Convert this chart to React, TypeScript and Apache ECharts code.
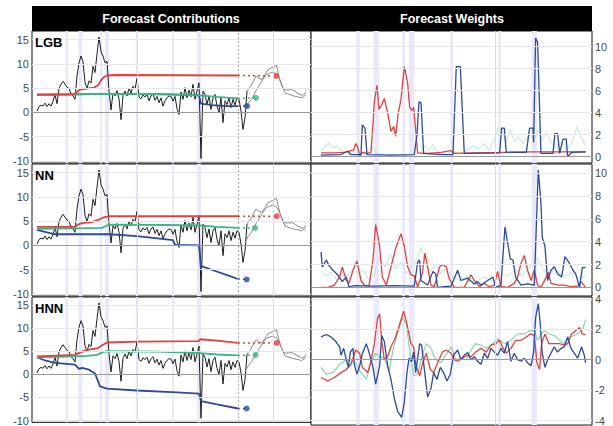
import { useEffect, useRef } from "react";
import * as echarts from "echarts";

type Pt = [number, number];

// ---------- shared time axis (period index) ----------
const panelNames = ["LGB", "NN", "HNN"];
const headerTitles = ["Forecast Contributions", "Forecast Weights"];
const bands: Pt[] = [[28.5, 31], [41.5, 45.5], [63, 65], [68, 72], [99, 101], [135, 137], [160, 164]];
const sampleEnd = 201;
const leftGridLinesX = [100, 236];
const rightGridLinesX = [133];

// ---------- tick labels ----------
const leftTicks = [-10, -5, 0, 5, 10, 15];
const rightTicks = [
  [0, 2, 4, 6, 8, 10],
  [0, 2, 4, 6, 8, 10],
  [-4, -2, 0, 2, 4],
];

// ---------- actual series (black), one value every 2 periods from 0 ----------
const blackStep = 2;
const blackActual = [
  0.3, 1.2, 1.5, 1.3, 1.9, 1.2, 1.8, 1.3, 2.3, 3.7, 1.8, 4.9, 5.8, 6.4, 5.8, 5.2, 4.9, 3.8, 3.4, 2.7,
  7.5, 10.2, 11.6, 10.5, 6.2, 4.9, 6.5, 6.0, 9.5, 8.2, 12.0, 15.5, 12.5, 11.6, 10.2, 10.5, 4.5, 0.5, 4.0, 3.4,
  4.5, 2.8, -1.5, 3.5, 4.4, 3.4, 5.0, 4.0, 5.4, 4.8, 7.0, 3.2, 2.8, 3.6, 3.2, 3.7, 2.4, 3.4, 3.8, 2.5,
  3.3, 2.0, 3.0, 1.3, 2.4, 3.0, 3.4, 3.3, 2.3, 3.3, 0.8, -0.4, 4.2, 2.7, 5.1, 3.0, 4.6, 3.2, 5.8, 2.7,
  4.4, 6.1, -9.5, 4.4, 3.7, 1.6, 3.4, 0.6, 3.0, 3.7, 1.3, 0.0, 3.0, -2.1, 2.4, 1.6, 3.0, 1.0, 2.7, 1.5,
  3.0, 2.7, 0.3, -3.5, -1.1, 4.4,
];
const grayUpper: Pt[] = [[210, 4.4], [214, 5.5], [219, 7.5], [222, 7.0], [225, 6.8], [228, 7.8], [231, 8.8], [235, 9.2], [239.5, 9.7], [241.5, 7.8], [244, 6.0], [246.5, 4.7], [250, 4.6], [255, 4.7], [259, 4.2], [263, 3.7], [266, 3.5], [268, 4.0], [269, 4.1]];
const grayLower: Pt[] = [[208, 0.5], [211, 1.8], [214.5, 2.7], [219, 4.5], [223, 5.8], [226, 6.8], [229.5, 7.8], [233, 8.1], [236.5, 8.3], [240, 7.8], [244.5, 5.8], [248, 4.0], [252, 3.7], [256.5, 3.4], [261, 3.2], [264.5, 3.0], [267, 3.3], [269, 3.7]];

// ---------- contributions ----------
const lgbRed: Pt[] = [[0, 3.7], [36, 3.7], [40, 4.2], [43, 4.7], [50, 4.9], [57, 5.1], [61, 5.6], [64, 6.6], [67, 7.3], [70, 7.6], [80, 7.7], [201, 7.6]];
const lgbGreen: Pt[] = [[0, 3.6], [38, 3.7], [70, 3.8], [133, 3.7], [163, 3.5], [180, 3.2], [201, 2.9]];
const lgbBlue: Pt[] = [[0, 3.6], [38, 3.7], [70, 3.8], [133, 3.7], [162, 3.5], [164, 1.8], [175, 1.5], [190, 1.3], [201, 1.3]];
const lgbDotRed: Pt = [239, 7.5];
const lgbDotGreen: Pt = [219, 3.0];
const lgbDotBlue: Pt = [210, 1.3];

const nnRed: Pt[] = [[0, 3.8], [38, 3.8], [41, 4.3], [45, 4.6], [55, 4.8], [62, 5.3], [67, 5.8], [72, 6.0], [201, 6.0]];
const nnGreen: Pt[] = [[0, 3.4], [40, 3.5], [65, 3.6], [70, 4.1], [75, 4.3], [130, 4.2], [163, 4.1], [180, 3.8], [201, 3.6]];
const nnBlue: Pt[] = [[0, 3.2], [8, 2.8], [18, 2.3], [73, 2.3], [100, 1.9], [136, 1.1], [138, 0.1], [162, 0.0], [164, -4.2], [176, -5.1], [193, -6.3], [201, -6.9]];
const nnDotRed: Pt = [239.7, 6.0];
const nnDotGreen: Pt = [218, 3.6];
const nnDotBlue: Pt = [209.7, -7.0];

const hnnRed: Pt[] = [[0, 3.9], [38, 4.2], [44, 4.8], [50, 5.3], [60, 5.6], [66, 6.4], [70, 6.9], [100, 7.1], [162, 7.2], [163, 7.6], [180, 7.3], [201, 6.8]];
const hnnGreen: Pt[] = [[0, 3.7], [38, 3.9], [50, 4.0], [60, 4.2], [66, 4.8], [70, 5.0], [120, 4.9], [163, 4.6], [180, 4.3], [201, 4.1]];
const hnnBlue: Pt[] = [[0, 3.7], [8, 3.0], [18, 2.5], [38, 2.1], [42, 1.2], [45, 1.4], [52, 1.0], [58, 0.2], [63, -2.6], [70, -3.1], [100, -3.5], [140, -3.9], [162, -4.2], [164, -5.8], [180, -6.5], [201, -7.4]];
const hnnDotRed: Pt = [239.7, 6.8];
const hnnDotGreen: Pt = [218.7, 4.2];
const hnnDotBlue: Pt = [209.7, -7.4];

// ---------- weights ----------
const lgbWRed: Pt[] = [[2, 0.35], [12, 0.35], [19.5, 0.4], [23, 0.5], [26.5, 0.6], [28, 1.2], [29.5, 0.9], [31, 0.05], [33, 0.4], [37, 0.3], [39.5, 0.4], [41, 3.0], [42, 5.0], [44, 6.5], [45.5, 4.3], [47.5, 4.7], [49.5, 5.3], [52, 4.0], [54.5, 2.3], [56.5, 2.75], [58, 1.85], [60, 4.0], [62, 5.2], [64.5, 8.2], [67, 6.7], [68.5, 4.5], [70, 4.2], [71.5, 4.5], [73, 2.45], [74.5, 0.35], [82, 0.3], [92, 0.4], [99.5, 0.55], [102, 0.3], [120, 0.35], [140, 0.4], [160, 0.45], [180, 0.45], [200.5, 0.45]];
const lgbWBlue: Pt[] = [[2, 0.15], [17, 0.2], [22, 0.5], [24.5, 0.2], [32, 0.2], [33, 2.9], [35, 2.6], [36.5, 0.2], [54.5, 0.15], [72, 0.2], [74, 2.0], [75.5, 5.0], [77, 4.9], [79, 0.3], [92, 0.2], [101, 0.2], [103.5, 8.2], [106.5, 8.2], [109.5, 0.3], [136, 0.35], [137.5, 2.6], [139.5, 2.6], [141, 0.4], [156, 0.4], [158.5, 2.6], [161, 2.6], [161.5, 1.3], [163, 10.8], [164.5, 10.4], [167, 0.3], [176, 0.3], [177.5, 2.1], [179.5, 2.1], [181, 0.3], [183.5, 1.6], [186, 1.6], [187, 0.0], [190, 0.4], [200.5, 0.45]];
const lgbWGreen: Pt[] = [[2, 0.5], [5, 0.9], [8, 1.3], [11, 0.8], [14, 1.0], [17, 0.6], [20, 0.4], [25, 0.2], [30, 0.3], [36, 0.2], [40, 1.0], [44, 0.3], [50, 0.2], [60, 0.2], [70, 0.2], [76, 0.3], [80, 1.0], [83, 0.6], [86, 1.1], [89, 0.5], [94, 0.3], [100, 0.4], [106, 0.3], [112, 0.6], [116, 1.0], [120, 0.7], [124, 1.2], [128, 0.6], [132, 1.5], [135, 2.7], [138, 2.2], [141, 1.4], [144, 2.5], [147, 1.3], [150, 1.8], [154, 1.2], [158, 2.0], [162, 1.6], [165, 2.4], [168, 1.5], [171, 2.2], [174, 1.4], [178, 0.8], [182, 1.3], [186, 0.6], [190, 1.2], [194, 2.7], [197, 1.8], [200.5, 1.0]];

const nnWBlue: Pt[] = [[2, 3.1], [3, 1.8], [6, 2.4], [8, 1.9], [11, 1.5], [14.5, 1.1], [18, 0.5], [21, 0.9], [23, 0.05], [27, 0.15], [42, 0.1], [57, 0.15], [72, 0.1], [74.5, 2.2], [76, 2.4], [77, 0.6], [82, 0.2], [86, 1.4], [88, 1.2], [89.5, 0], [94.5, 0.05], [99.5, 0.1], [102, 0.8], [104.5, 1.5], [107, 0.6], [112, 0.8], [117, 0.3], [119.5, 0.5], [122, 0.2], [127, 0.6], [131, 0.9], [133, 0], [137, 0.2], [140, 5.3], [142, 3.9], [144, 2.5], [146, 2.4], [148, 0.9], [152, 0.2], [157, 0.3], [162, 0.2], [165, 10.3], [167, 7.4], [168, 4.4], [170, 3.6], [172, 0.6], [174.5, 1.5], [177, 1.8], [179.5, 1.2], [182.5, 0.9], [185, 2.7], [188, 2.2], [191, 1.5], [193, 1.2], [196, 0], [198, 1.7], [200.5, 1.75]];
const nnWRed: Pt[] = [[2, 0], [7, 0], [12, 0.2], [16, 0.9], [18, 1.8], [21, 0.6], [23, 0.35], [26, 1.5], [29, 2.3], [32, 0.6], [34.5, 0.2], [38, 0.1], [41, 2.4], [43, 5.5], [46, 3.6], [48, 0.9], [51, 0.2], [54.5, 1.8], [58, 3.4], [62, 4.7], [64.5, 3.6], [67, 1.8], [69.5, 1.1], [72, 1.0], [74.5, 0.05], [78, 1.2], [80, 3.0], [82, 1.8], [84.5, 0.2], [87, 0.05], [91, 1.8], [93, 2.0], [96, 1.8], [98, 0.8], [102, 0], [109.5, 0], [114.5, 1.1], [117, 0.6], [121, 0.05], [124.5, 0.35], [128, 0.05], [132, 0.2], [134.5, 1.4], [137, 0.05], [142, 0], [147, 0.35], [149.5, 0.9], [152, 2.1], [154.5, 2.8], [157, 1.5], [159.5, 0.6], [162, 1.5], [164.5, 0.2], [167, 0], [171, 0.9], [172.5, 1.3], [174.5, 0.35], [180, 0.2], [185, 0.2], [190, 0.05], [194.5, 0.1], [197, 0.5], [200.5, 0]];
const nnWGreen: Pt[] = [[2, 1.4], [6, 1.0], [10, 1.3], [14, 0.7], [18, 1.2], [22, 1.0], [26, 1.6], [30, 1.2], [34, 1.5], [38, 0.6], [42, 1.2], [46, 2.6], [50, 1.8], [54, 2.9], [58, 1.6], [62, 2.2], [66, 1.2], [70, 1.8], [74, 2.4], [77, 3.5], [80, 2.2], [84, 1.4], [88, 2.0], [92, 1.2], [96, 1.6], [100, 1.0], [106, 0.6], [112, 1.0], [118, 0.5], [124, 0.9], [130, 0.6], [136, 1.2], [142, 1.0], [148, 1.6], [152, 1.0], [156, 1.4], [160, 2.0], [164, 2.6], [168, 1.6], [172, 1.2], [178, 1.5], [184, 1.0], [190, 1.3], [196, 0.8], [200.5, 1.0]];

const hnnWBlue: Pt[] = [[2, 1.5], [6, 1.66], [9.5, 1.5], [13, 1.2], [16, 0.85], [17, 0.3], [19, 0.75], [21, 0], [22.5, -0.5], [24, 0.5], [26, 0.75], [27, -0.3], [29, -0.95], [31, -0.4], [33, 0.4], [36, 1.06], [38, 0.5], [41, -0.5], [43, -1.6], [46, -0.4], [47.5, 1.6], [49.5, 1.2], [52, -0.4], [54.5, -1.3], [57, -2.55], [59.5, -3.4], [62.5, -3.8], [64.5, -2.8], [66.5, -0.85], [68, 0.1], [70, -0.1], [71.5, 0.5], [73, -0.85], [76, 1.06], [77.5, 0.95], [79.5, -0.6], [82, -2.45], [84.5, -1.9], [86.5, -0.85], [89, -1.3], [91.5, -0.5], [94, -0.85], [96.5, -1.4], [99, -0.95], [101.5, 0.3], [104.5, 0.64], [107, 0], [109.5, 0.3], [112, 0.47], [114.5, 0], [117, 0.2], [119.5, -0.1], [122, -0.3], [124.5, 0.43], [127, 0.1], [129.5, 0.75], [132, 0.5], [134.5, 0.3], [137, 0.75], [139.5, 0.43], [142, 1.2], [144.5, -0.1], [147, 0.43], [149.5, 0], [152, -0.1], [154.5, 0.1], [157, -0.2], [159.5, -0.4], [161.5, 0.5], [163, 2.77], [165, 3.7], [166.5, 2.34], [168, 0.43], [170, -0.5], [172, 0], [174.5, 0.43], [177, 0.85], [179.5, 0.5], [182, 0.75], [184.5, 0.85], [187, 1.5], [189.5, 0.75], [192, 0.43], [194.5, 0.1], [197.5, 0.85], [199.5, 0.3], [200.5, -0.2]];
const hnnWRed: Pt[] = [[2, -1.17], [7, -1.4], [12, -1.17], [17, -0.85], [21, -0.64], [24.5, -0.3], [28, 0.64], [31, 0.43], [33, -0.5], [37, -0.85], [39.5, -0.1], [42, 1.06], [44.5, 2.77], [46, 3.0], [47.5, 1.28], [49.5, 0], [52, 0.2], [54.5, 0.85], [57.5, 1.38], [61, 2.34], [64, 3.2], [66.5, 2.34], [69.5, 1.06], [71.5, 0.85], [73, -0.3], [76, -1.06], [78, -0.3], [81, 0.43], [84, -0.64], [86.5, -0.85], [89.5, -0.2], [93, 0.5], [96, 0.64], [99.5, 0.43], [102, 0], [104.5, -0.1], [108, 0.1], [111.5, 0.3], [114.5, 0.2], [118, 0.5], [122, 0.75], [126, 0.5], [129.5, 0.96], [133, 1.06], [136, 1.28], [138, 0.85], [141, 0.43], [144.5, 0.75], [148, 1.28], [152, 1.28], [156, 1.5], [159, 1.7], [162, 1.6], [164, -0.2], [166, -0.64], [167.5, 1.06], [170, 1.7], [173, 1.06], [177, 1.06], [181, 1.06], [184.5, 0.96], [187, 1.06], [190, 1.7], [193, 1.9], [196, 2.13], [198, 1.7], [200.5, 1.66]];
const hnnWGreen: Pt[] = [[2, -0.5], [6, -0.95], [11, -0.85], [16, -0.3], [21, 0], [24.5, -0.1], [28, -0.2], [32, -0.85], [36, -1.28], [39.5, -0.2], [43, 0.43], [46, 0.2], [49.5, 0.1], [53, -0.75], [56.5, 0.85], [60, 1.9], [63, 2.77], [66, 2.34], [68, 0.96], [71.5, -1.06], [74.5, -0.95], [78, 0.3], [81, 1.06], [84.5, 0.75], [88, 0], [92, -0.2], [97, 0.5], [100, 0.85], [103, 0], [107, 0.1], [111, 0], [114.5, 0.64], [118, 1.06], [122, 0.96], [126, 0.75], [129.5, 0.96], [134.5, 1.38], [139.5, 1.06], [144.5, 1.28], [149.5, 1.7], [154.5, 1.7], [158, 1.9], [162, 1.9], [164.5, 1.28], [167, 1.7], [170, 1.9], [173, 1.7], [177, 1.6], [181, 1.28], [184.5, 1.06], [188, 1.5], [192, 1.6], [196, 1.8], [198, 1.9], [200.5, 2.66]];

// ---------- styling ----------
const FONT = "'Liberation Sans', Arial, Helvetica, sans-serif";
const RED = "#e2403d";
const GREEN = "#3cb487";
const BLUE = "#2c4a9a";
const GREEN_W = ["#c8ead9", "#c8ead9", "#80d2ad"];
const BAND = "#e9e9fb";
const rowTop = [31, 164, 297];
const rowH = 132;
const leftX = { min: -5, max: 274 };
const rightX = { min: -5.5, max: 205.3 };
const leftY = { min: -10.4, max: 16.75 };
const rightY = [
  { min: -0.57, max: 11.43 },
  { min: -0.76, max: 10.82 },
  { min: -4.3, max: 4.13 },
];

const contrib = [
  { red: lgbRed, green: lgbGreen, blue: lgbBlue, dr: lgbDotRed, dg: lgbDotGreen, db: lgbDotBlue },
  { red: nnRed, green: nnGreen, blue: nnBlue, dr: nnDotRed, dg: nnDotGreen, db: nnDotBlue },
  { red: hnnRed, green: hnnGreen, blue: hnnBlue, dr: hnnDotRed, dg: hnnDotGreen, db: hnnDotBlue },
];
const weights = [
  { red: lgbWRed, green: lgbWGreen, blue: lgbWBlue },
  { red: nnWRed, green: nnWGreen, blue: nnWBlue },
  { red: hnnWRed, green: hnnWGreen, blue: hnnWBlue },
];

function buildOption() {
  const grid: any[] = [];
  const xAxis: any[] = [];
  const yAxis: any[] = [];
  const series: any[] = [];
  const graphic: any[] = [];

  const blackData: Pt[] = blackActual.map((v, i) => [i * blackStep, v]);

  for (let r = 0; r < 3; r++) {
    for (let c = 0; c < 2; c++) {
      const idx = r * 2 + c;
      grid.push({
        left: c === 0 ? 32 : 311,
        top: rowTop[r],
        width: c === 0 ? 279 : 281,
        height: rowH,
        show: true,
        backgroundColor: "#fff",
        borderColor: "#111",
        borderWidth: 1,
      });
      const xr = c === 0 ? leftX : rightX;
      xAxis.push({ gridIndex: idx, type: "value", min: xr.min, max: xr.max, show: false });
      const yr = c === 0 ? leftY : rightY[r];
      const ticks = c === 0 ? leftTicks : rightTicks[r];
      yAxis.push({
        gridIndex: idx,
        type: "value",
        min: yr.min,
        max: yr.max,
        position: c === 0 ? "left" : "right",
        axisLine: { show: false },
        axisTick: { show: true, length: 4, customValues: ticks, lineStyle: { color: "#555" } },
        axisLabel: { color: "#4a4a4a", fontSize: 11, fontFamily: FONT, margin: 3, customValues: ticks },
        splitLine: { show: false },
      });

      const vlines = (c === 0 ? leftGridLinesX : rightGridLinesX).map((x) => ({ xAxis: x, lineStyle: { color: "#dcdcdc", width: 1, type: "solid" } }));
      const hlines = ticks.map((t) => ({ yAxis: t, lineStyle: t === 0 ? { color: "#9a9a9a", width: 1, type: "solid" } : { color: "#e6e6e6", width: 1, type: "solid" } }));
      const markData: any[] = [...vlines, ...hlines];
      if (c === 0) markData.push({ xAxis: sampleEnd, lineStyle: { color: "#a8a8a8", width: 1, type: [2, 2] } });
      series.push({
        type: "line",
        xAxisIndex: idx,
        yAxisIndex: idx,
        data: [],
        silent: true,
        z: 1,
        markArea: {
          silent: true,
          itemStyle: { color: BAND },
          data: bands.map(([a, b]) => [{ xAxis: a }, { xAxis: b }]),
        },
        markLine: { silent: true, symbol: ["none", "none"], label: { show: false }, animation: false, data: markData },
      });

      const line = (data: Pt[], color: string, width: number, z = 3, type: any = "solid") => ({
        type: "line",
        xAxisIndex: idx,
        yAxisIndex: idx,
        data,
        showSymbol: false,
        symbol: "none",
        silent: true,
        z,
        lineStyle: { color, width, type },
      });

      if (c === 0) {
        const cb = contrib[r];
        series.push(line(blackData, "#1e1e1e", 1, 2));
        series.push(line(grayUpper, "#8c8c8c", 1, 2));
        series.push(line(grayLower, "#8c8c8c", 1, 2));
        series.push(line(cb.blue, BLUE, 1.8, 3));
        series.push(line(cb.green, GREEN, 1.8, 3));
        series.push(line(cb.red, RED, 1.8, 3));
        series.push(line([cb.blue[cb.blue.length - 1], cb.db], BLUE, 1.5, 3, [2, 3]));
        series.push(line([cb.green[cb.green.length - 1], cb.dg], GREEN, 1.5, 3, [2, 3]));
        series.push(line([cb.red[cb.red.length - 1], cb.dr], RED, 1.5, 3, [2, 3]));
        [[cb.db, BLUE], [cb.dg, GREEN], [cb.dr, RED]].forEach(([p, col]: any) => {
          series.push({
            type: "scatter",
            xAxisIndex: idx,
            yAxisIndex: idx,
            data: [p],
            symbol: "circle",
            symbolSize: 6,
            silent: true,
            z: 4,
            itemStyle: { color: col },
          });
        });
      } else {
        const w = weights[r];
        series.push(line(w.green, GREEN_W[r], 1.1, 2));
        series.push(line(w.red, RED, 1.3, 3));
        series.push(line(w.blue, BLUE, 1.3, 3));
      }
    }
    graphic.push({
      type: "text",
      left: 35,
      top: rowTop[r] + 5,
      z: 20,
      style: { text: panelNames[r], fill: "#000", font: `bold 13px ${FONT}` },
    });
  }

  graphic.push({ type: "rect", shape: { x: 32, y: 6, width: 560, height: 25 }, style: { fill: "#000" }, z: 15 });
  graphic.push({
    type: "text",
    x: 171,
    y: 18.5,
    z: 20,
    style: { text: headerTitles[0], fill: "#fff", font: `bold 12.5px ${FONT}`, textAlign: "center", textVerticalAlign: "middle" },
  });
  graphic.push({
    type: "text",
    x: 452,
    y: 18.5,
    z: 20,
    style: { text: headerTitles[1], fill: "#fff", font: `bold 12.5px ${FONT}`, textAlign: "center", textVerticalAlign: "middle" },
  });

  return { animation: false, backgroundColor: "#fff", grid, xAxis, yAxis, series, graphic };
}

export default function App() {
  const ref = useRef<HTMLDivElement>(null);
  useEffect(() => {
    const chart = echarts.init(ref.current!, undefined, { renderer: "svg" });
    chart.setOption(buildOption() as any);
    return () => chart.dispose();
  }, []);
  return <div ref={ref} style={{ position: "fixed", left: 0, top: 0, width: 613, height: 426 }} />;
}
